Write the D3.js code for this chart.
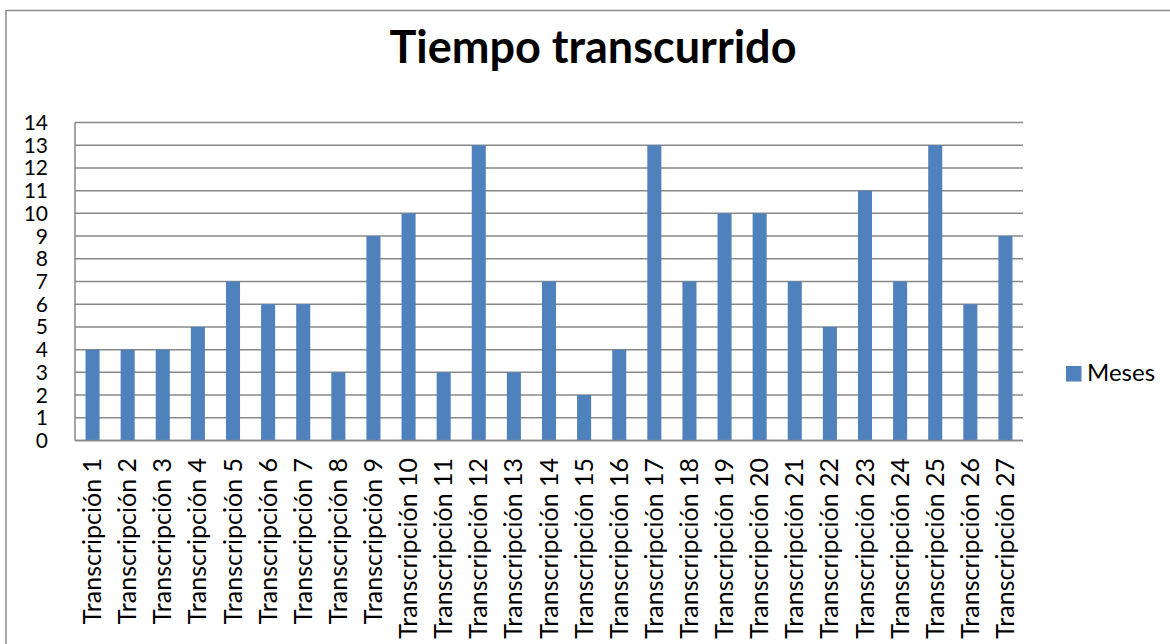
<!DOCTYPE html>
<html>
<head>
<meta charset="utf-8">
<script src="https://cdn.jsdelivr.net/npm/d3@7"></script>
<style>
  body { margin: 0; background: #fff; }
  svg { display: block; font-family: Lato, "Open Sans", sans-serif; }
</style>
</head>
<body>
<script>
// chart data
var categories = [];
for (var i = 1; i <= 27; i++) { categories.push("Transcripción " + i); }
var meses = [4, 4, 4, 5, 7, 6, 6, 3, 9, 10, 3, 13, 3, 7, 2, 4, 13, 7, 10, 10, 7, 5, 11, 7, 13, 6, 9];
var yTicks = [0, 1, 2, 3, 4, 5, 6, 7, 8, 9, 10, 11, 12, 13, 14];
var seriesName = "Meses";
var chartTitle = "Tiempo transcurrido";

var W = 1170, H = 644;
var pLeft = 75, pRight = 1023, pTop = 122.5, pBottom = 440.5;

var svg = d3.select("body").append("svg")
    .attr("width", W)
    .attr("height", H);

// outer frame
svg.append("rect")
    .attr("x", 6)
    .attr("y", 10.5)
    .attr("width", W + 20)
    .attr("height", H + 20)
    .attr("fill", "none")
    .attr("stroke", "#8c8c8c")
    .attr("stroke-width", 1.5);

var x = d3.scaleBand()
    .domain(categories)
    .range([pLeft, pRight])
    .paddingInner(0.6)
    .paddingOuter(0.3);

var y = d3.scaleLinear()
    .domain([0, 14])
    .range([pBottom, pTop]);

// gridlines
svg.append("g")
    .selectAll("line")
    .data(yTicks)
    .enter()
    .append("line")
    .attr("x1", pLeft)
    .attr("x2", pRight)
    .attr("y1", d => y(d))
    .attr("y2", d => y(d))
    .attr("stroke", "#888")
    .attr("stroke-width", 1.5);

// bars
svg.append("g")
    .selectAll("rect")
    .data(meses)
    .enter()
    .append("rect")
    .attr("x", (d, i) => x(categories[i]))
    .attr("y", d => y(d))
    .attr("width", x.bandwidth())
    .attr("height", d => y(0) - y(d))
    .attr("fill", "#4f81bd");

// axes lines
svg.append("line")
    .attr("x1", pLeft).attr("x2", pLeft)
    .attr("y1", pTop).attr("y2", pBottom)
    .attr("stroke", "#888").attr("stroke-width", 1.5);
svg.append("line")
    .attr("x1", pLeft).attr("x2", pRight)
    .attr("y1", pBottom).attr("y2", pBottom)
    .attr("stroke", "#888").attr("stroke-width", 1.5);

// y tick labels
svg.append("g")
    .selectAll("text")
    .data(yTicks)
    .enter()
    .append("text")
    .attr("x", 48)
    .attr("y", d => y(d) + 7.5)
    .attr("text-anchor", "end")
    .attr("font-size", 21)
    .attr("fill", "#000")
    .text(d => d);

// x labels rotated
svg.append("g")
    .selectAll("text")
    .data(categories)
    .enter()
    .append("text")
    .attr("transform", d => "translate(" + (x(d) + x.bandwidth() / 2 + 8.5) + "," + 458 + ") rotate(-90)")
    .attr("text-anchor", "end")
    .attr("font-size", 25)
    .attr("fill", "#000")
    .text(d => d);

// title
svg.append("text")
    .attr("x", 593)
    .attr("y", 63)
    .attr("text-anchor", "middle")
    .attr("font-size", 45)
    .attr("font-weight", "bold")
    .attr("fill", "#000")
    .text(chartTitle);

// legend
svg.append("rect")
    .attr("x", 1066)
    .attr("y", 366)
    .attr("width", 15.5)
    .attr("height", 15.5)
    .attr("fill", "#4f81bd");
svg.append("text")
    .attr("x", 1087)
    .attr("y", 381)
    .attr("font-size", 24)
    .attr("fill", "#000")
    .text(seriesName);
</script>
</body>
</html>
